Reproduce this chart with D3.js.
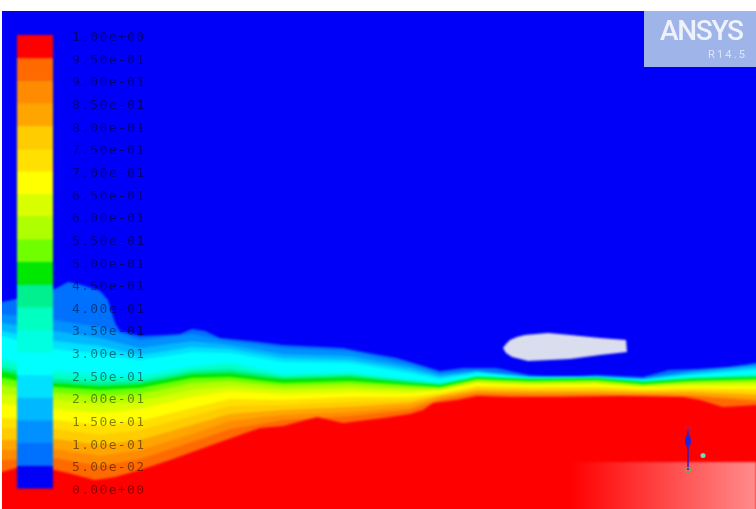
<!DOCTYPE html>
<html><head><meta charset="utf-8">
<script src="https://cdn.jsdelivr.net/npm/d3@7"></script>
<style>html,body{margin:0;padding:0;background:#fff;overflow:hidden}svg{display:block}.soft{filter:blur(.8px)}.labels{filter:blur(.5px)}</style>
</head><body><svg id="c" width="756" height="509"></svg>
<script>
// legend labels, bottom to top
const tickLabels = ["0.00e+00","5.00e-02","1.00e-01","1.50e-01","2.00e-01","2.50e-01","3.00e-01","3.50e-01","4.00e-01","4.50e-01","5.00e-01","5.50e-01","6.00e-01","6.50e-01","7.00e-01","7.50e-01","8.00e-01","8.50e-01","9.00e-01","9.50e-01","1.00e+00"];
// band colours, lowest value to highest
const bandColors = ["#0000f8","#0070ff","#0090ff","#00b8ff","#00e0ff","#00ffff","#00ffe0","#00ffc0","#00f090","#00e800","#70ff00","#b0ff00","#d8ff00","#ffff00","#ffe000","#ffcc00","#ffa500","#ff8c00","#ff6a00","#ff0000"];
// contours: horizontal station, and depth
const stationX = [2,55,100,140,192,230,283,350,410,440,477,529,596,643,690,756];
const edgeLowX = [2,30,55,68,82,100,108,115,120,140,165,180,192,205,220,250,283,343,363,397,430,440,463,496,529,563,596,643,669,696,730,756];
const edgeLow = [302,296,289,282,285,291,300,323,331,336,335,334,329,331,338,341,345,348,352,358,368,371,368,368,375,377,375,377,370,369,367,363];
const c02 = [314,320,327,340,334,341,348,351,364,373,370,376,376,378,371,364];
const c03 = [323,331,338,348,341,345,354,356,367,375,371,377,376,379,372,366];
const c04 = [331,341,346,355,347,349,358,360,370,377,372,377,377,379,374,368];
const c05 = [336,349,354,360,352,353,362,363,373,379,373,377,377,380,375,370];
const c06 = [358,370,374,375,366,362,373,372,379,383,376,378,378,381,377,374];
const c07 = [362,374,378,378,368,365,375,373,380,383,376,379,378,381,378,375];
const c08 = [367,379,382,381,371,369,377,375,381,384,377,379,378,382,378,376];
const c09 = [371,383,386,384,374,373,379,377,383,385,377,379,378,382,379,377];
const c10 = [378,387,390,388,378,377,383,381,385,387,379,381,380,384,381,379];
const c11 = [385,393,396,394,383,381,386,384,387,388,380,382,381,385,382,381];
const c12 = [394,400,404,401,390,386,390,388,390,389,382,384,383,386,384,383];
const c13 = [404,409,413,409,397,391,394,392,393,391,383,385,384,387,386,386];
const c14 = [418,420,425,421,408,399,400,397,397,393,386,387,387,389,388,389];
const c15 = [428,429,435,430,416,406,405,402,400,395,388,389,389,391,390,392];
const c16 = [440,439,445,440,425,414,410,407,403,396,390,391,391,392,392,395];
const c17 = [450,449,456,450,434,421,415,412,407,398,392,393,393,394,395,399];
const c18 = [460,458,466,459,442,429,420,416,410,400,394,395,395,395,396,401];
const edgeHighX = [2,30,55,68,95,115,140,170,192,220,260,283,317,343,383,410,423,433,457,477,510,560,620,683,700,723,756];
const edgeHigh = [472,464,470,473,480,477,470,460,452,442,428,426,417,423,418,414,410,403,400,396,397,397,396,397,400,407,405];
// airfoil outline
const bodyX = [503,506,510,517,525,548,570,600,626,627,600,570,550,528,512,506];
const bodyY = [348,344,340,337,335,333,335,338,340,352,355,359,360,361,357,353];

const svg = d3.select("#c");
const defs = svg.append("defs");
const x = d3.scaleLinear().domain([2,756]).range([2,756]);
const y = d3.scaleLinear().domain([11,509]).range([11,509]);
const bleed = 20;

defs.append("clipPath").attr("id","plot").append("rect")
  .attr("x",x(2)).attr("y",y(11)).attr("width",x(756)-x(2)).attr("height",y(509)-y(11));
const plot = svg.append("g").attr("clip-path","url(#plot)");
const field = plot.append("g").attr("class","soft");

const contours = [
  [edgeLowX,edgeLow],[stationX,c02],[stationX,c03],[stationX,c04],[stationX,c05],[stationX,c06],
  [stationX,c07],[stationX,c08],[stationX,c09],[stationX,c10],[stationX,c11],[stationX,c12],
  [stationX,c13],[stationX,c14],[stationX,c15],[stationX,c16],[stationX,c17],[stationX,c18],
  [edgeHighX,edgeHigh]
];

field.append("rect").attr("x",x(2)-bleed).attr("y",y(11)-bleed)
  .attr("width",x(756)-x(2)+2*bleed).attr("height",y(509)-y(11)+2*bleed).attr("fill",bandColors[0]);

const area = d3.area().x(d=>d[0]).y0(y(509)+bleed).y1(d=>y(d[1]));
field.append("g").selectAll("path").data(contours).join("path")
  .attr("d",d=>{
    const pts = d[0].map((v,i)=>[x(v),d[1][i]]);
    pts.unshift([x(2)-bleed,d[1][0]]);
    pts.push([x(756)+bleed,d[1][d[1].length-1]]);
    return area(pts);
  })
  .attr("fill",(d,i)=>bandColors[i+1]);

// fade at lower right
const grad = defs.append("linearGradient").attr("id","fade");
grad.append("stop").attr("offset","0").attr("stop-color","#fff").attr("stop-opacity",0);
grad.append("stop").attr("offset","1").attr("stop-color","#fff").attr("stop-opacity",.55);
field.append("rect").attr("x",x(570)).attr("y",y(462)).attr("width",x(756)-x(570)).attr("height",y(509)-y(462)+bleed).attr("fill","url(#fade)");

// airfoil
field.append("path").attr("d",d3.line().x(d=>x(d[0])).y(d=>y(d[1])).curve(d3.curveLinearClosed)(bodyX.map((v,i)=>[v,bodyY[i]]))).attr("fill","#d9dded");

// legend
const legendScale = d3.scaleLinear().domain([0,1]).range([488,35]);
const levels = tickLabels.map(Number);
field.append("g").selectAll("rect").data(bandColors).join("rect")
  .attr("x",17).attr("width",36)
  .attr("y",(d,i)=>legendScale(levels[i+1]))
  .attr("height",(d,i)=>legendScale(levels[i])-legendScale(levels[i+1])+.5)
  .attr("fill",d=>d);
plot.append("g").attr("class","labels").selectAll("text").data(tickLabels).join("text")
  .attr("x",72).attr("y",d=>legendScale(+d)+6)
  .attr("font-family","'DejaVu Sans Mono',monospace").attr("font-size",13)
  .attr("textLength",72).attr("lengthAdjust","spacing")
  .attr("fill","#000").attr("fill-opacity",.48).text(d=>d);

// logo
const logo = plot.append("g").attr("class","labels");
logo.append("rect").attr("x",644).attr("y",11).attr("width",120).attr("height",56).attr("fill","#9fb4e8");
logo.append("text").attr("x",660).attr("y",40).attr("font-family","Roboto,sans-serif").attr("font-weight",500).attr("font-size",28).attr("textLength",84).attr("lengthAdjust","spacing").attr("fill","#eef2fb").text("ANSYS");
logo.append("text").attr("x",708).attr("y",58).attr("font-family","Roboto,sans-serif").attr("font-size",11).attr("textLength",37).attr("lengthAdjust","spacing").attr("fill","#dde5f9").text("R14.5");

// axis triad
const triad = plot.append("g").attr("class","labels");
triad.append("line").attr("x1",688).attr("x2",688).attr("y1",428).attr("y2",470).attr("stroke","#2222cc").attr("stroke-width",1.5);
triad.append("path").attr("d","M684,428H692M688,428V432").attr("stroke","#b02060").attr("fill","none");
triad.append("ellipse").attr("cx",688).attr("cy",441).attr("rx",3).attr("ry",6).attr("fill","#2222dd");
triad.append("circle").attr("cx",703).attr("cy",455.5).attr("r",2.5).attr("fill","#60e0c0");
triad.append("circle").attr("cx",688).attr("cy",470).attr("r",2.5).attr("fill","none").attr("stroke","#50c060");
</script></body></html>
